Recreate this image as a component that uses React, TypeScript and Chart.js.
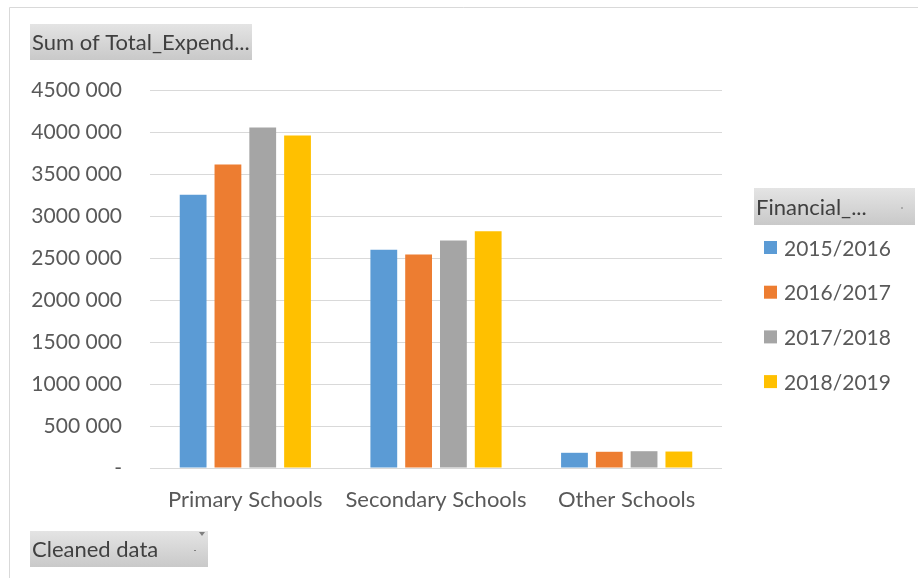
import React, { useEffect, useRef } from "react";
import { Chart, registerables } from "chart.js";

Chart.register(...registerables);

const categories = ["Primary Schools", "Secondary Schools", "Other Schools"];
const seriesLabels = ["2015/2016", "2016/2017", "2017/2018", "2018/2019"];
const fy1516 = [3252000, 2598000, 181000];
const fy1617 = [3613000, 2542000, 193000];
const fy1718 = [4054000, 2708000, 200000];
const fy1819 = [3958000, 2819000, 196000];
const seriesColors = ["#5B9BD5", "#ED7D31", "#A5A5A5", "#FFC000"];
const yMax = 4500000;
const yStep = 500000;
const titleText = "Sum of Total_Expend...";
const legendTitle = "Financial_...";
const filterText = "Cleaned data";

const FONT = "Lato, 'Open Sans', sans-serif";

function fmt(v: number): string {
  if (v === 0) return "-";
  const thousands = Math.floor(v / 1000);
  const rest = String(v % 1000).padStart(3, "0");
  return `${thousands} ${rest}`;
}

function drawButton(ctx: CanvasRenderingContext2D, x: number, y: number, w: number, h: number, text: string, dash: boolean, funnel: boolean) {
  const g = ctx.createLinearGradient(0, y, 0, y + h);
  g.addColorStop(0, "#E4E4E4");
  g.addColorStop(1, "#C9C9C9");
  ctx.fillStyle = g;
  ctx.fillRect(x, y, w, h);
  ctx.fillStyle = "#404040";
  ctx.font = `22px ${FONT}`;
  ctx.textBaseline = "middle";
  ctx.textAlign = "left";
  ctx.fillText(text, x + 2, y + h / 2 + 1);
  if (dash) {
    ctx.fillStyle = "#7F7F7F";
    ctx.fillRect(x + w - 14, y + h / 2 + 1, 2, 1);
  }
  if (funnel) {
    ctx.fillStyle = "#7F7F7F";
    ctx.beginPath();
    ctx.moveTo(x + w - 9, y + 1);
    ctx.lineTo(x + w - 3, y + 1);
    ctx.lineTo(x + w - 6, y + 5);
    ctx.closePath();
    ctx.fill();
  }
}

const decorPlugin = {
  id: "decor",
  beforeDraw(chart: any) {
    const ctx = chart.ctx as CanvasRenderingContext2D;
    ctx.save();
    ctx.fillStyle = "#FFFFFF";
    ctx.fillRect(0, 0, chart.width, chart.height);
    ctx.strokeStyle = "#D9D9D9";
    ctx.lineWidth = 1;
    ctx.beginPath();
    ctx.moveTo(9.5, 578);
    ctx.lineTo(9.5, 7.5);
    ctx.lineTo(918, 7.5);
    ctx.stroke();
    ctx.restore();
  },
  afterDraw(chart: any) {
    const ctx = chart.ctx as CanvasRenderingContext2D;
    ctx.save();
    drawButton(ctx, 30, 24, 222, 36, titleText, false, false);
    drawButton(ctx, 754, 188, 161, 37, legendTitle, true, false);
    drawButton(ctx, 30, 531, 178, 36, filterText, true, true);
    const ds = chart.data.datasets;
    const startY = 248;
    const gap = 44.7;
    ds.forEach((d: any, i: number) => {
      const cy = startY + i * gap;
      ctx.fillStyle = d.backgroundColor;
      ctx.fillRect(764, cy - 7, 13, 13);
      ctx.fillStyle = "#595959";
      ctx.font = `21px ${FONT}`;
      ctx.textBaseline = "middle";
      ctx.textAlign = "left";
      ctx.fillText(d.label, 784, cy + 1);
    });
    ctx.restore();
  },
};

export default function App() {
  const ref = useRef<HTMLCanvasElement | null>(null);
  useEffect(() => {
    document.body.style.margin = "0";
    const values = [fy1516, fy1617, fy1718, fy1819];
    const chart = new Chart(ref.current!, {
      type: "bar",
      data: {
        labels: categories,
        datasets: seriesLabels.map((l, i) => ({
          label: l,
          data: values[i],
          backgroundColor: seriesColors[i],
          borderWidth: 0,
          categoryPercentage: 0.73,
          barPercentage: 0.77,
        })),
      },
      options: {
        animation: false,
        responsive: false,
        devicePixelRatio: 1,
        layout: { padding: { left: 0, right: 196, top: 90, bottom: 0 } },
        plugins: { legend: { display: false }, tooltip: { enabled: false }, title: { display: false } },
        scales: {
          x: {
            grid: { display: false, drawTicks: false },
            border: { display: false },
            ticks: { color: "#595959", font: { family: FONT, size: 22 }, padding: 19, maxRotation: 0 },
            afterFit: (s: any) => { s.height = 110; },
          },
          y: {
            min: 0,
            max: yMax,
            grid: { color: "#D9D9D9", lineWidth: 1, drawTicks: false },
            border: { display: false },
            ticks: {
              stepSize: yStep,
              color: "#595959",
              font: { family: FONT, size: 21 },
              padding: 28,
              callback: (v: any) => fmt(Number(v)),
            },
            afterFit: (s: any) => { s.width = 150; },
          },
        },
      },
      plugins: [decorPlugin],
    });
    return () => chart.destroy();
  }, []);
  return <canvas ref={ref} width={918} height={578} style={{ display: "block" }} />;
}
